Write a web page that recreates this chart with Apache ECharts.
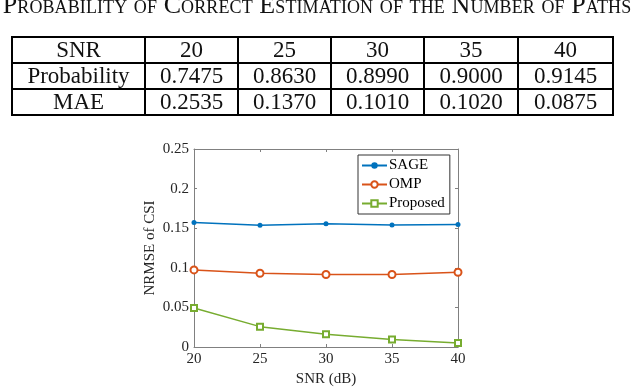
<!DOCTYPE html>
<html>
<head>
<meta charset="utf-8">
<script src="https://cdn.jsdelivr.net/npm/echarts@6/dist/echarts.min.js"></script>
<style>
html,body{margin:0;padding:0;background:#fff;width:634px;height:392px;overflow:hidden;}
#chart{position:absolute;left:0;top:0;width:634px;height:392px;}
#title{position:absolute;left:-50px;top:-9px;width:734px;text-align:center;white-space:nowrap;letter-spacing:0.1px;
  font-family:"Liberation Serif",serif;font-size:26px;font-variant:small-caps;color:#111;line-height:28px;}
#tbl{position:absolute;left:11px;top:36px;border-collapse:collapse;font-family:"Liberation Serif",serif;}
#tbl td{font-family:"Liberation Serif",serif;font-size:23px;color:#111;
  border:2px solid #000;height:24px;padding:0;text-align:center;line-height:24px;}
</style>
</head>
<body>
<div id="chart"></div>
<div id="title">Probability of Correct Estimation of the Number of Paths</div>
<table id="tbl"></table>
<script>
// Table data
const tableTitle = "Probability of Correct Estimation of the Number of Paths";
const snrHeader = ["SNR", "20", "25", "30", "35", "40"];
const probabilityRow = ["Probability", "0.7475", "0.8630", "0.8990", "0.9000", "0.9145"];
const maeRow = ["MAE", "0.2535", "0.1370", "0.1010", "0.1020", "0.0875"];

// Chart data
const snr = [20, 25, 30, 35, 40];
const sage = [0.1573, 0.1537, 0.1556, 0.1541, 0.1548];
const omp = [0.0973, 0.0931, 0.0915, 0.0915, 0.0944];
const proposed = [0.0493, 0.0257, 0.0162, 0.0096, 0.0051];

// Build table
const colWidths = [131, 91, 91, 91, 92, 93];
const tbl = document.getElementById('tbl');
[snrHeader, probabilityRow, maeRow].forEach(row => {
  const tr = document.createElement('tr');
  row.forEach((v, i) => {
    const td = document.createElement('td');
    td.textContent = v;
    td.style.width = colWidths[i] + 'px';
    tr.appendChild(td);
  });
  tbl.appendChild(tr);
});
document.getElementById('title').textContent = tableTitle;

const font = '"Liberation Serif", serif';
const axisCol = '#262626';
const chart = echarts.init(document.getElementById('chart'), null, {renderer: 'canvas'});
const pair = s => snr.map((x, i) => [x, s[i]]);
const boxAxis = () => ({
  axisLine: {show: true, onZero: false, lineStyle: {color: '#808080', width: 1}},
  axisTick: {show: true, inside: true, length: 3, lineStyle: {color: '#808080'}},
  splitLine: {show: false}
});
chart.setOption({
  animation: false,
  backgroundColor: 'transparent',
  textStyle: {fontFamily: font},
  grid: {left: 194, top: 149, width: 264, height: 202, containLabel: false},
  xAxis: [
    Object.assign({type: 'value', min: 20, max: 40, interval: 5, position: 'bottom',
      name: 'SNR (dB)', nameLocation: 'middle', nameGap: 25,
      nameTextStyle: {fontFamily: font, fontSize: 15, color: axisCol},
      axisLabel: {fontFamily: font, fontSize: 15, color: axisCol, margin: 5}}, boxAxis()),
    Object.assign({type: 'value', min: 20, max: 40, interval: 5, position: 'top',
      axisLabel: {show: false}}, boxAxis())
  ],
  yAxis: [
    Object.assign({type: 'value', min: 0, max: 0.25, interval: 0.05, position: 'left',
      name: 'NRMSE of CSI', nameLocation: 'middle', nameGap: 36,
      nameTextStyle: {fontFamily: font, fontSize: 15, color: axisCol},
      axisLabel: {fontFamily: font, fontSize: 15, color: axisCol, margin: 5}}, boxAxis()),
    Object.assign({type: 'value', min: 0, max: 0.25, interval: 0.05, position: 'right',
      axisLabel: {show: false}}, boxAxis())
  ],
  legend: {
    show: true, orient: 'vertical', left: 358, top: 155,
    itemWidth: 25, itemHeight: 8, itemGap: 4,
    padding: [3, 5, 3, 3],
    borderColor: '#333', borderWidth: 1, backgroundColor: '#fff',
    textStyle: {fontFamily: font, fontSize: 15, color: '#000', padding: [0, 0, 0, -3]},
    data: ['SAGE', 'OMP', 'Proposed']
  },
  series: [
    {name: 'SAGE', type: 'line', data: pair(sage), symbol: 'circle', symbolSize: 5,
      lineStyle: {color: '#0072BD', width: 1.5}, itemStyle: {color: '#0072BD'}},
    {name: 'OMP', type: 'line', data: pair(omp), symbol: 'emptyCircle', symbolSize: 7,
      lineStyle: {color: '#D95319', width: 1.5}, itemStyle: {color: '#D95319', borderColor: '#D95319', borderWidth: 1.5}},
    {name: 'Proposed', type: 'line', data: pair(proposed), symbol: 'emptyRect', symbolSize: 6,
      lineStyle: {color: '#77AC30', width: 1.5}, itemStyle: {color: '#77AC30', borderColor: '#77AC30', borderWidth: 1.5}}
  ]
});
</script>
</body>
</html>
